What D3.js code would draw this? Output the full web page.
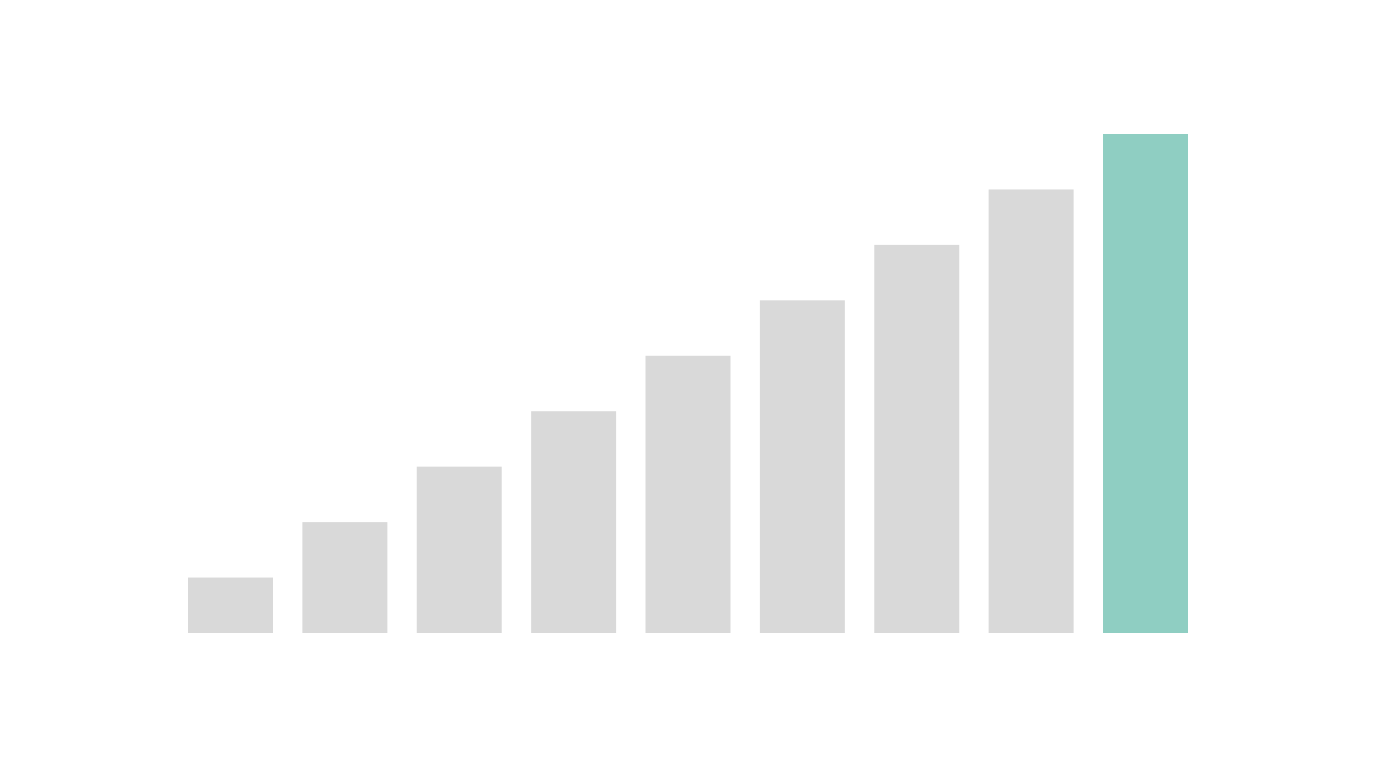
<!DOCTYPE html>
<html lang="en">
<head>
<meta charset="UTF-8">
<title>Bar chart</title>
<script src="https://cdn.jsdelivr.net/npm/d3@7"></script>
<style>
  html, body { margin: 0; padding: 0; background: #ffffff; }
  svg { display: block; }
</style>
</head>
<body>
<script>
// data
const categories = ["1", "2", "3", "4", "5", "6", "7", "8", "9"]
const values = [1, 2, 3, 4, 5, 6, 7, 8, 9]
const highlight = "9"

const width = 1376
const height = 768

const svg = d3.select("body").append("svg")
    .attr("width", width)
    .attr("height", height)

const x = d3.scaleBand()
    .domain(categories)
    .range([188, 1188])
    .paddingInner(0.257)
    .paddingOuter(0)

const y = d3.scaleLinear()
    .domain([0, 9])
    .range([633, 134])

svg.append("g")
    .selectAll("rect")
    .data(categories.map((c, i) => ({cat: c, value: values[i]})))
    .enter().append("rect")
    .attr("x", d => x(d.cat))
    .attr("y", d => y(d.value))
    .attr("width", x.bandwidth())
    .attr("height", d => y(0) - y(d.value))
    .attr("fill", d => d.cat === highlight ? "#8fcec2" : "#d9d9d9")
</script>
</body>
</html>
